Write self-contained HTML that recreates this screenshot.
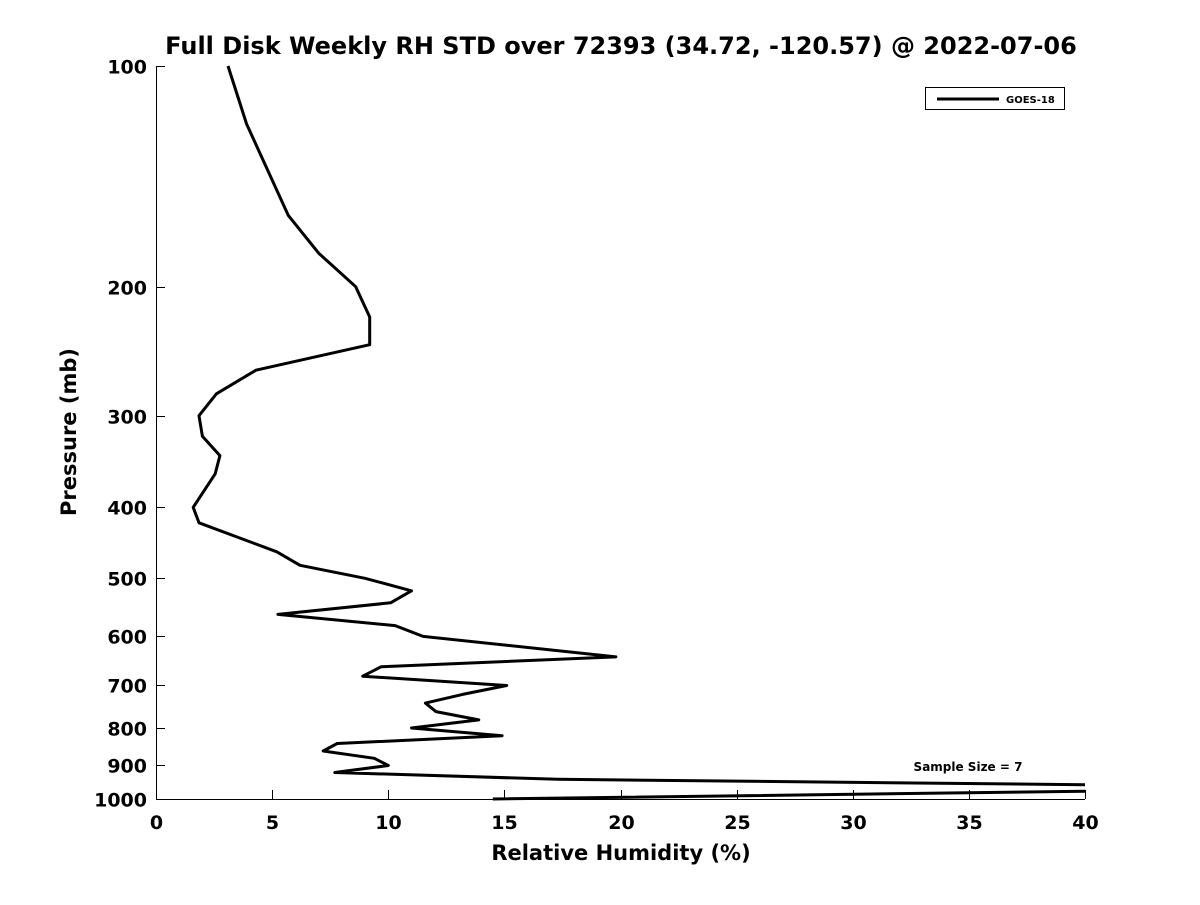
<!DOCTYPE html>
<html><head><meta charset="utf-8"><style>
body{margin:0;background:#fff;}
svg{font-family:"DejaVu Sans","Liberation Sans",sans-serif;font-weight:bold;}
</style></head><body>
<svg id="chart" width="1200" height="900" viewBox="0 0 1200 900">
<rect width="1200" height="900" fill="#fff"/>
<text x="621" y="54" text-anchor="middle" font-size="24" fill="#000">Full Disk Weekly RH STD over 72393 (34.72, -120.57) @ 2022-07-06</text>
<g id="axes"></g>
<defs><clipPath id="clip"><rect x="156" y="60" width="929" height="745"/></clipPath></defs>
<g clip-path="url(#clip)"><path id="line" fill="none" stroke="#000" stroke-width="3" stroke-linejoin="round"/></g>
<text x="968" y="771" text-anchor="middle" font-size="12">Sample Size = 7</text>
<g>
<rect x="925.5" y="87.5" width="139" height="22" fill="#fff" stroke="#000" stroke-width="1"/>
<line x1="937" y1="99" x2="999" y2="99" stroke="#000" stroke-width="3"/>
<text x="1006" y="103" font-size="10">GOES-18</text>
</g>
<text x="621" y="860" text-anchor="middle" font-size="21">Relative Humidity (%)</text>
<text transform="translate(76,432) rotate(-90)" text-anchor="middle" font-size="21">Pressure (mb)</text>
</svg>
<script>
const pressures=[100,120,160,180,200,220,240,260,280,300,320,340,360,400,420,460,480,500,520,540,560,580,600,640,660,680,700,720,740,760,780,800,820,840,860,880,900,920,940,957,975,1000];
const rhStd=[3.1,3.9,5.7,7.0,8.6,9.2,9.2,4.3,2.6,1.85,2.0,2.75,2.55,1.6,1.85,5.2,6.2,9.0,11.0,10.1,5.25,10.3,11.5,19.8,9.7,8.9,15.1,13.2,11.6,12.05,13.9,11.0,14.9,7.8,7.2,9.4,10.0,7.7,17.3,41,41,14.5];
const xTicks=[0,5,10,15,20,25,30,35,40];
const yTicks=[100,200,300,400,500,600,700,800,900,1000];
const X0=156,X1=1085,Y0=66,Y1=799;
const xs=v=>X0+(v/40)*(X1-X0);
const ys=p=>Y0+(Math.log10(p)-2)*(Y1-Y0);
const NS="http://www.w3.org/2000/svg";
const ax=document.getElementById('axes');
function mk(t,a){const e=document.createElementNS(NS,t);for(const k in a)e.setAttribute(k,a[k]);return e;}
let l=mk('line',{x1:X0,y1:Y1+0.5,x2:X1,y2:Y1+0.5,stroke:'#000','stroke-width':1});


ax.appendChild(l);
l=mk('line',{x1:X0+0.5,y1:Y0,x2:X0+0.5,y2:Y1,stroke:'#000','stroke-width':1});


ax.appendChild(l);
xTicks.forEach(v=>{const x=Math.round(xs(v))+0.5;
 const t=mk('line',{x1:x,y1:Y1,x2:x,y2:Y1-9,stroke:'#000'});
 
 
 ax.appendChild(t);
 const tx=mk('text',{x:x,y:829,'text-anchor':'middle','font-size':19});tx.textContent=v;
 
 
 ax.appendChild(tx);});
yTicks.forEach(p=>{const y=Math.round(ys(p))+0.5;
 const t=mk('line',{x1:X0,y1:y,x2:X0+9,y2:y,stroke:'#000'});
 
 
 ax.appendChild(t);
 const tx=mk('text',{x:147,y:y+7,'text-anchor':'end','font-size':19});tx.textContent=p;
 
 
 ax.appendChild(tx);});
document.getElementById('line').setAttribute('d',pressures.map((p,i)=>(i?'L':'M')+xs(rhStd[i]).toFixed(1)+','+ys(p).toFixed(1)).join(''));
</script>
</body></html>
